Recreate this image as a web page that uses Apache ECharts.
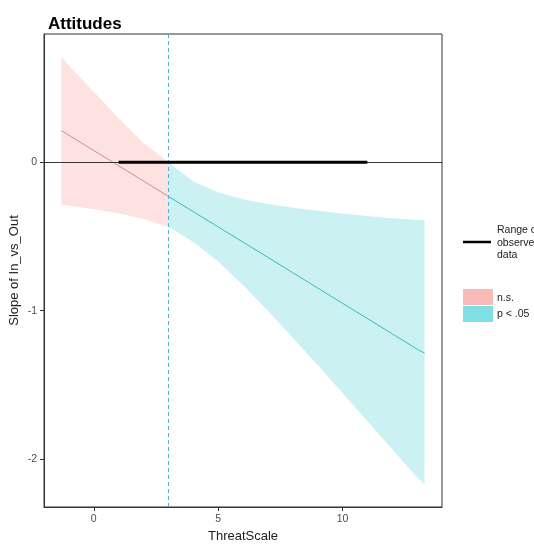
<!DOCTYPE html>
<html>
<head>
<meta charset="utf-8">
<script src="https://cdn.jsdelivr.net/npm/echarts@6/dist/echarts.min.js"></script>
<style>
html,body{margin:0;padding:0;background:#fff;}
#chart{width:534px;height:544px;}
</style>
</head>
<body>
<div id="chart"></div>
<script>
// ThreatScale values (x) and slope estimates
var nsX     = [-1.3, -1, 0, 1, 2, 3];
var nsFit   = [0.213, 0.182, 0.079, -0.024, -0.127, -0.230];
var nsUpper = [0.713, 0.650, 0.474, 0.296, 0.129, 0.000];
var nsLower = [-0.287, -0.292, -0.316, -0.344, -0.383, -0.435];

var sigX     = [3, 4, 5, 6, 7, 8, 9, 10, 11, 12, 13, 13.3];
var sigFit   = [-0.230, -0.333, -0.436, -0.538, -0.641, -0.744, -0.847, -0.950, -1.053, -1.156, -1.259, -1.287];
var sigUpper = [0.000, -0.129, -0.203, -0.249, -0.281, -0.306, -0.327, -0.345, -0.362, -0.378, -0.390, -0.388];
var sigLower = [-0.435, -0.537, -0.669, -0.827, -1.001, -1.182, -1.367, -1.555, -1.744, -1.934, -2.125, -2.170];

var observedRange = [1, 11];
var jnPoint = 3;
var xTicks = [0, 5, 10];
var yTicks = [-2, -1, 0];

var FONT = "'Liberation Sans', Arial, sans-serif";

function zip(a, b) { return a.map(function (v, i) { return [v, b[i]]; }); }

function band(xs, lo, hi, color) {
  return {
    type: 'custom',
    silent: true,
    clip: true,
    z: 1,
    data: xs.map(function (x, i) { return [x, lo[i], hi[i]]; }),
    encode: { x: 0, y: [1, 2] },
    renderItem: function (params, api) {
      if (params.dataIndex !== 0) return null;
      var pts = [];
      for (var i = 0; i < xs.length; i++) pts.push(api.coord([xs[i], hi[i]]));
      for (var j = xs.length - 1; j >= 0; j--) pts.push(api.coord([xs[j], lo[j]]));
      return { type: 'polygon', shape: { points: pts }, style: { fill: color } };
    }
  };
}

var chart = echarts.init(document.getElementById('chart'), null, { renderer: 'canvas' });

chart.setOption({
  animation: false,
  backgroundColor: '#ffffff',
  title: {
    text: 'Attitudes',
    left: 43,
    top: 11,
    textStyle: { fontFamily: FONT, fontSize: 17, fontWeight: 'bold', color: '#000' }
  },
  grid: {
    left: 44, right: 92, top: 34, bottom: 37,
    containLabel: false, outerBoundsMode: 'none',
    show: true, borderColor: '#333', borderWidth: 1, backgroundColor: '#fff'
  },
  xAxis: {
    type: 'value', min: -2, max: 14,
    name: 'ThreatScale', nameLocation: 'middle', nameGap: 23, nameMoveOverlap: false,
    nameTextStyle: { fontFamily: FONT, fontSize: 13, color: '#222' },
    axisLine: { show: true, onZero: false, lineStyle: { color: '#333' } },
    splitLine: { show: false },
    axisTick: { show: true, length: 4, customValues: xTicks, lineStyle: { color: '#333' } },
    axisLabel: { customValues: xTicks, margin: 7, fontFamily: FONT, fontSize: 10.5, color: '#4d4d4d' }
  },
  yAxis: {
    type: 'value', min: -2.323, max: 0.864,
    name: 'Slope of In_vs_Out', nameLocation: 'middle', nameGap: 23, nameRotate: 90, nameMoveOverlap: false,
    nameTextStyle: { fontFamily: FONT, fontSize: 13, color: '#222' },
    axisLine: { show: true, onZero: false, lineStyle: { color: '#333' } },
    splitLine: { show: false },
    axisTick: { show: true, length: 4, customValues: yTicks, lineStyle: { color: '#333' } },
    axisLabel: { customValues: yTicks, margin: 7, fontFamily: FONT, fontSize: 10.5, color: '#4d4d4d' }
  },
  series: [
    band(nsX, nsLower, nsUpper, '#fee2e1'),
    band(sigX, sigLower, sigUpper, '#ccf1f3'),
    {
      type: 'line', data: zip(nsX, nsFit), symbol: 'none', silent: true, z: 3,
      lineStyle: { color: '#c98280', width: 0.9 }
    },
    {
      type: 'line', data: zip(sigX, sigFit), symbol: 'none', silent: true, z: 3,
      lineStyle: { color: '#1fb8bb', width: 0.9 },
      markLine: {
        silent: true, symbol: 'none', label: { show: false },
        lineStyle: { color: '#222', width: 0.9, type: 'solid' },
        data: [{ yAxis: 0 }]
      }
    },
    {
      type: 'line', data: observedRange.map(function (x) { return [x, 0]; }),
      symbol: 'none', silent: true, z: 5,
      lineStyle: { color: '#000', width: 3 },
      markLine: {
        silent: true, symbol: 'none', label: { show: false },
        lineStyle: { color: '#5aaed6', width: 1, type: [4, 3] },
        data: [{ xAxis: jnPoint }]
      }
    }
  ],
  graphic: [
    { type: 'line', shape: { x1: 463, y1: 242, x2: 491, y2: 242 }, style: { stroke: '#000', lineWidth: 2.5 } },
    { type: 'text', left: 497, top: 224, style: { text: 'Range of\nobserved\ndata', font: "10.5px 'Liberation Sans', Arial, sans-serif", fill: '#222', lineHeight: 12.5 } },
    { type: 'rect', shape: { x: 463, y: 289, width: 30, height: 16 }, style: { fill: '#f9bbb7' } },
    { type: 'rect', shape: { x: 463, y: 306, width: 30, height: 16 }, style: { fill: '#80dfe2' } },
    { type: 'text', left: 497, top: 293, style: { text: 'n.s.', font: "10.5px 'Liberation Sans', Arial, sans-serif", fill: '#222' } },
    { type: 'text', left: 497, top: 309, style: { text: 'p < .05', font: "10.5px 'Liberation Sans', Arial, sans-serif", fill: '#222' } }
  ]
});
</script>
</body>
</html>
